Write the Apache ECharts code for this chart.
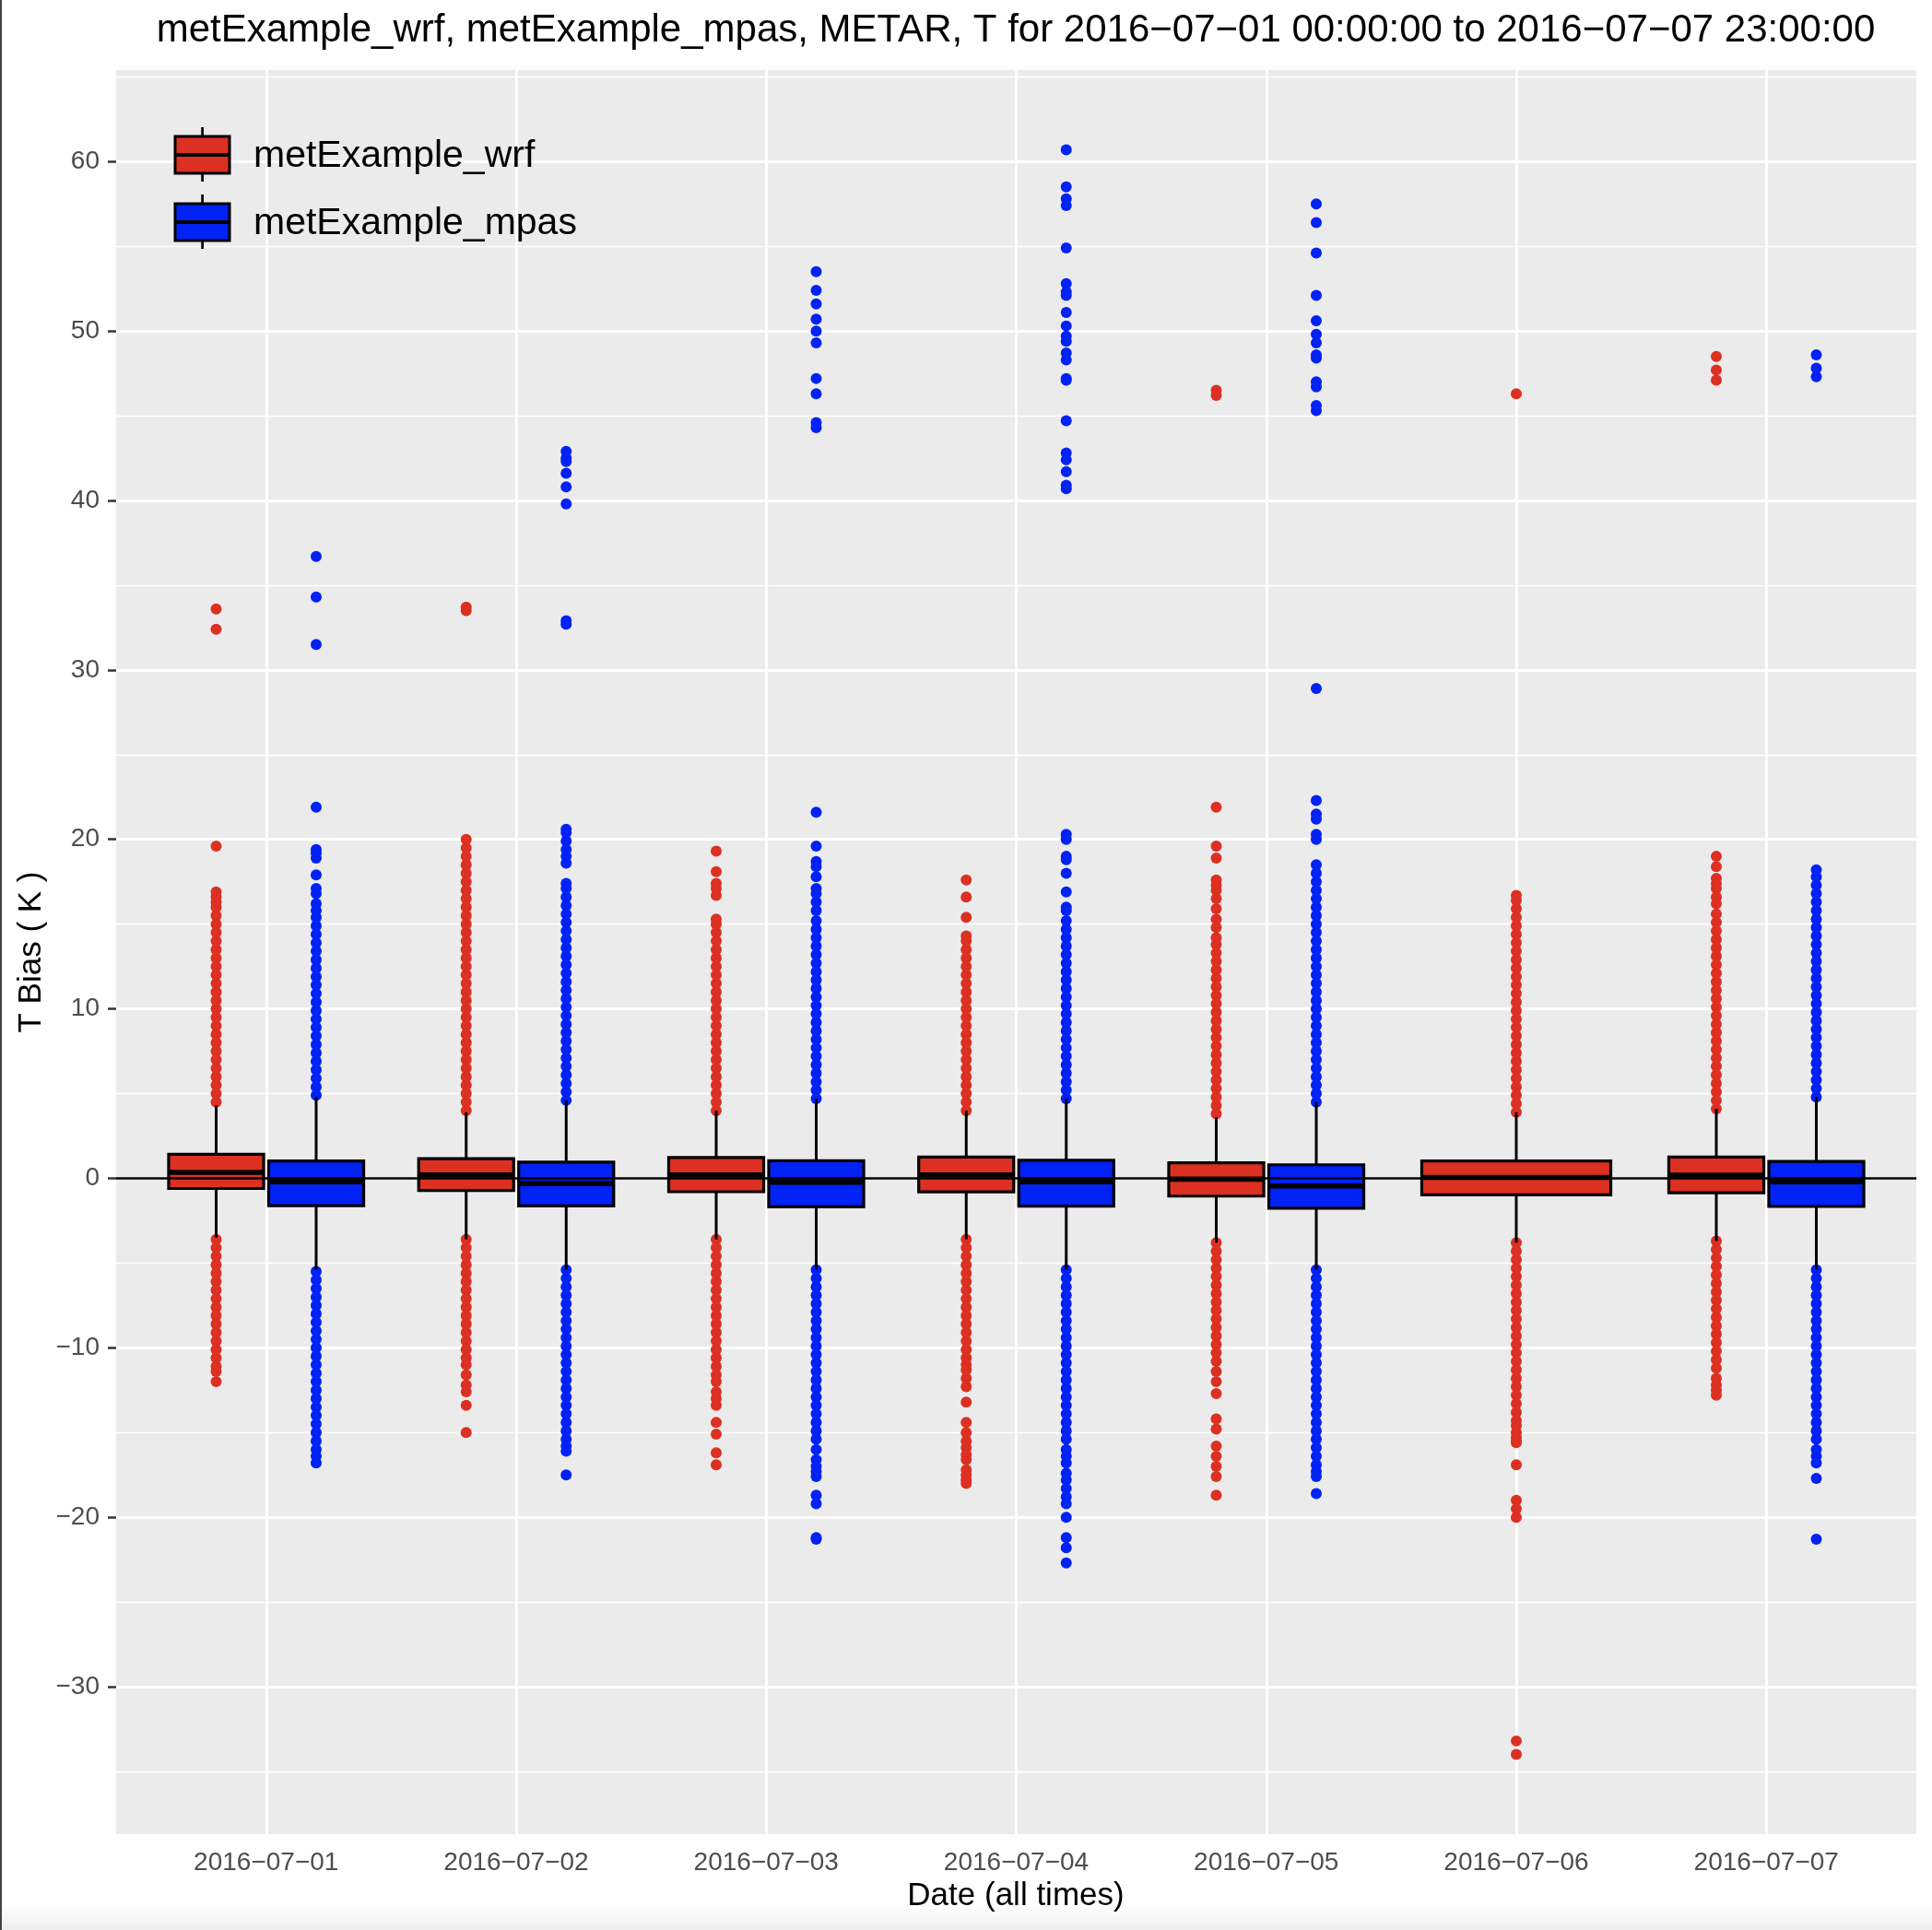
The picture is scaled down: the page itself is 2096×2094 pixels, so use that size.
<!DOCTYPE html>
<html><head><meta charset="utf-8">
<script src="https://cdn.jsdelivr.net/npm/echarts@6/dist/echarts.min.js"></script>
<style>html,body{margin:0;padding:0;background:#fff}#c{width:2096px;height:2094px}</style>
</head><body><div id="c"></div>
<script>
const dates = ['2016\u221207\u221201','2016\u221207\u221202','2016\u221207\u221203','2016\u221207\u221204','2016\u221207\u221205','2016\u221207\u221206','2016\u221207\u221207'];
const yTicks = [-30,-20,-10,0,10,20,30,40,50,60];
const yMinor = [-35,-25,-15,-5,5,15,25,35,45,55,65];

// [lower whisker, Q1, median, Q3, upper whisker]
const wrfBox = [
  [-3.5,-0.60,0.35,1.42,4.3],
  [-3.6,-0.72,0.20,1.16,3.9],
  [-3.6,-0.79,0.20,1.23,4.0],
  [-3.6,-0.80,0.20,1.25,4.0],
  [-3.8,-1.05,-0.05,0.91,3.6],
  [-3.8,-0.98,0.05,1.02,3.9],
  [-3.7,-0.85,0.18,1.25,4.1]
];
const mpasBox = [
  [-5.4,-1.61,-0.20,1.02,4.8],
  [-5.4,-1.63,-0.30,0.96,4.6],
  [-5.4,-1.68,-0.23,1.04,4.7],
  [-5.4,-1.64,-0.20,1.06,4.7],
  [-5.4,-1.76,-0.45,0.80,4.5],
  null,
  [-5.4,-1.66,-0.20,1.00,4.8]
];

const wrfOutliers = [
  [4.5,5.0,5.5,6.0,6.5,7.0,7.5,8.0,8.5,9.0,9.5,10.0,10.5,11.0,11.5,12.0,12.5,13.0,13.5,14.0,14.5,15.0,15.5,16.0,16.3,16.6,16.9,19.6,32.4,33.6,
   -3.6,-4.1,-4.6,-5.1,-5.6,-6.1,-6.6,-7.1,-7.6,-8.1,-8.6,-9.1,-9.6,-10.1,-10.6,-11.1,-11.4,-12.0],
  [4.0,4.5,5.0,5.5,6.0,6.5,7.0,7.5,8.0,8.5,9.0,9.5,10.0,10.5,11.0,11.5,12.0,12.5,13.0,13.5,14.0,14.5,15.0,15.5,16.0,16.5,17.0,17.5,18.0,18.5,19.0,19.5,20.0,33.5,33.7,
   -3.6,-4.1,-4.6,-5.1,-5.6,-6.1,-6.6,-7.1,-7.6,-8.1,-8.6,-9.1,-9.6,-10.1,-10.6,-11.0,-11.6,-12.2,-12.6,-13.4,-15.0],
  [4.0,4.5,5.0,5.5,6.0,6.5,7.0,7.5,8.0,8.5,9.0,9.5,10.0,10.5,11.0,11.5,12.0,12.5,13.0,13.5,14.0,14.5,15.0,15.3,16.7,17.1,17.4,18.1,19.3,
   -3.6,-4.1,-4.6,-5.1,-5.6,-6.1,-6.6,-7.1,-7.6,-8.1,-8.6,-9.1,-9.6,-10.1,-10.6,-11.1,-11.6,-12.0,-12.6,-13.0,-13.4,-14.4,-15.1,-16.2,-16.9],
  [4.0,4.5,5.0,5.5,6.0,6.5,7.0,7.5,8.0,8.5,9.0,9.5,10.0,10.5,11.0,11.5,12.0,12.5,13.0,13.5,14.0,14.3,15.4,16.6,17.6,
   -3.6,-4.1,-4.6,-5.1,-5.6,-6.1,-6.6,-7.1,-7.6,-8.1,-8.6,-9.1,-9.6,-10.1,-10.6,-11.0,-11.3,-11.8,-12.3,-13.2,-14.4,-15.0,-15.5,-15.9,-16.3,-16.6,-17.2,-17.5,-17.8,-18.0],
  [3.8,4.3,4.8,5.3,5.8,6.3,6.8,7.3,7.8,8.3,8.8,9.3,9.8,10.3,10.8,11.3,11.8,12.3,12.8,13.3,13.8,14.2,14.8,15.3,15.9,16.5,17.0,17.3,17.6,18.9,19.6,21.9,46.2,46.5,
   -3.8,-4.3,-4.8,-5.3,-5.8,-6.3,-6.8,-7.3,-7.8,-8.3,-8.8,-9.3,-9.8,-10.3,-10.8,-11.4,-12.0,-12.7,-14.2,-14.8,-15.8,-16.4,-17.0,-17.6,-18.7],
  [3.9,4.4,4.9,5.4,5.9,6.4,6.9,7.4,7.9,8.4,8.9,9.4,9.9,10.4,10.9,11.4,11.9,12.4,12.9,13.4,13.9,14.4,14.9,15.4,15.9,16.4,16.7,46.3,
   -3.8,-4.3,-4.8,-5.3,-5.8,-6.3,-6.8,-7.3,-7.8,-8.3,-8.8,-9.3,-9.8,-10.3,-10.8,-11.3,-11.8,-12.3,-12.8,-13.3,-13.8,-14.3,-14.6,-15.0,-15.3,-15.5,-15.6,-16.9,-19.0,-19.5,-20.0,-33.2,-34.0],
  [4.1,4.6,5.1,5.6,6.1,6.6,7.1,7.6,8.1,8.6,9.1,9.6,10.1,10.6,11.1,11.6,12.1,12.6,13.1,13.6,14.1,14.6,15.1,15.6,16.2,16.6,17.1,17.4,17.7,18.4,19.0,47.1,47.7,48.5,
   -3.7,-4.2,-4.7,-5.2,-5.7,-6.2,-6.7,-7.2,-7.7,-8.2,-8.7,-9.2,-9.7,-10.2,-10.7,-11.2,-11.8,-12.2,-12.5,-12.8]
];

const mpasOutliers = [
  [4.9,5.4,5.9,6.4,6.9,7.4,7.9,8.4,8.9,9.4,9.9,10.4,10.9,11.4,11.9,12.4,12.9,13.4,13.9,14.4,14.9,15.4,15.8,16.2,16.8,17.1,17.9,18.9,19.2,19.4,21.9,31.5,34.3,36.7,
   -5.5,-6.0,-6.5,-7.0,-7.5,-8.0,-8.5,-9.0,-9.5,-10.0,-10.5,-11.0,-11.5,-12.0,-12.5,-13.0,-13.5,-14.0,-14.5,-15.0,-15.5,-16.0,-16.4,-16.8],
  [4.6,5.1,5.6,6.1,6.6,7.1,7.6,8.1,8.6,9.1,9.6,10.1,10.6,11.1,11.6,12.1,12.6,13.1,13.6,14.1,14.6,15.1,15.6,16.1,16.6,17.1,17.4,18.6,19.0,19.4,19.9,20.4,20.6,32.7,32.9,39.8,40.8,41.6,42.3,42.5,42.9,
   -5.4,-5.9,-6.4,-6.9,-7.4,-7.9,-8.4,-8.9,-9.4,-9.9,-10.4,-10.9,-11.4,-11.9,-12.4,-12.9,-13.4,-13.9,-14.4,-14.9,-15.4,-15.8,-16.1,-17.5],
  [4.7,5.2,5.7,6.2,6.7,7.2,7.7,8.2,8.7,9.2,9.7,10.2,10.7,11.2,11.7,12.2,12.7,13.2,13.7,14.2,14.7,15.2,15.8,16.3,16.8,17.1,17.8,18.4,18.7,19.6,21.6,44.3,44.6,46.3,47.2,49.3,50.0,50.7,51.6,52.4,53.5,
   -5.4,-5.9,-6.4,-6.9,-7.4,-7.9,-8.4,-8.9,-9.4,-9.9,-10.4,-10.9,-11.4,-11.9,-12.4,-12.9,-13.4,-13.9,-14.4,-14.9,-15.4,-16.0,-16.6,-17.0,-17.3,-17.6,-18.7,-19.2,-21.2,-21.3],
  [4.7,5.2,5.7,6.2,6.7,7.2,7.7,8.2,8.7,9.2,9.7,10.2,10.7,11.2,11.7,12.2,12.7,13.2,13.7,14.2,14.7,15.2,15.8,16.0,16.9,18.0,18.8,19.0,20.0,20.3,40.7,40.9,41.7,42.4,42.8,44.7,47.1,47.2,48.3,48.7,49.4,49.7,50.3,51.1,52.1,52.3,52.8,54.9,57.4,57.8,58.5,60.7,
   -5.4,-5.9,-6.4,-6.9,-7.4,-7.9,-8.4,-8.9,-9.4,-9.9,-10.4,-10.9,-11.4,-11.9,-12.4,-12.9,-13.4,-13.9,-14.4,-14.9,-15.4,-16.0,-16.4,-16.8,-17.4,-17.8,-18.3,-18.8,-19.2,-20.0,-21.2,-21.8,-22.7],
  [4.5,5.0,5.5,6.0,6.5,7.0,7.5,8.0,8.5,9.0,9.5,10.0,10.5,11.0,11.5,12.0,12.5,13.0,13.5,14.0,14.5,15.0,15.5,16.0,16.5,17.0,17.5,18.0,18.5,20.0,20.3,21.2,21.5,22.3,28.9,45.3,45.6,46.7,47.0,48.4,48.6,49.3,49.8,50.6,52.1,54.6,56.4,57.5,
   -5.4,-5.9,-6.4,-6.9,-7.4,-7.9,-8.4,-8.9,-9.4,-9.9,-10.4,-10.9,-11.4,-11.9,-12.4,-12.9,-13.4,-13.9,-14.4,-14.9,-15.4,-15.9,-16.4,-16.9,-17.3,-17.6,-18.6],
  [],
  [4.8,5.3,5.8,6.3,6.8,7.3,7.8,8.3,8.8,9.3,9.8,10.3,10.8,11.3,11.8,12.3,12.8,13.3,13.8,14.3,14.8,15.3,15.8,16.3,16.8,17.3,17.8,18.2,47.3,47.8,48.6,
   -5.4,-5.9,-6.4,-6.9,-7.4,-7.9,-8.4,-8.9,-9.4,-9.9,-10.4,-10.9,-11.4,-11.9,-12.4,-12.9,-13.4,-13.9,-14.4,-14.9,-15.4,-16.0,-16.4,-16.8,-17.7,-21.3]
];

const seriesNames = ['metExample_wrf','metExample_mpas'];
const titleText = 'metExample_wrf, metExample_mpas, METAR, T for 2016\u221207\u221201 00:00:00 to 2016\u221207\u221207 23:00:00';

const RED = '#DC3022', BLUE = '#0022F5';
const FONT = 'Liberation Sans, Arial, Helvetica, sans-serif';

const both = d => !!(wrfBox[d-1] && mpasBox[d-1]);
const centerOf = (d, side) => both(d) ? d + side * 0.2 : d;
const halfOf = d => both(d) ? 0.19 : 0.378;

function boxSeries(name, boxes, color, side) {
  const data = [];
  boxes.forEach((b, i) => { if (b) data.push([i + 1].concat(b)); });
  return {
    type: 'custom', name, z: 3, data,
    encode: { x: 0, y: [1, 2, 3, 4, 5] },
    renderItem(params, api) {
      const d = api.value(0);
      const cx = centerOf(d, side), h = halfOf(d);
      const lo = api.value(1), q1 = api.value(2), md = api.value(3), q3 = api.value(4), hi = api.value(5);
      const pHi = api.coord([cx, hi]), pQ3 = api.coord([cx, q3]), pQ1 = api.coord([cx, q1]), pLo = api.coord([cx, lo]);
      const pL = api.coord([cx - h, q3]), pR = api.coord([cx + h, q1]);
      const mL = api.coord([cx - h, md]), mR = api.coord([cx + h, md]);
      const ws = { stroke: '#000', lineWidth: 3 };
      return { type: 'group', children: [
        { type: 'line', shape: { x1: pHi[0], y1: pHi[1], x2: pQ3[0], y2: pQ3[1] }, style: ws },
        { type: 'line', shape: { x1: pLo[0], y1: pLo[1], x2: pQ1[0], y2: pQ1[1] }, style: ws },
        { type: 'rect', shape: { x: pL[0], y: pL[1], width: pR[0] - pL[0], height: pR[1] - pL[1] }, style: { fill: color, stroke: '#000', lineWidth: 3.2 } },
        { type: 'line', shape: { x1: mL[0], y1: mL[1], x2: mR[0], y2: mR[1] }, style: { stroke: '#000', lineWidth: 5.6 } }
      ]};
    }
  };
}

function outlierSeries(name, outs, color, side) {
  const data = [];
  outs.forEach((arr, i) => arr.forEach(v => data.push([centerOf(i + 1, side), v])));
  return { type: 'scatter', name, z: 2, data, symbol: 'circle', symbolSize: 12,
    itemStyle: { color, opacity: 1 }, silent: true };
}

const gridLines = [];
yMinor.forEach(v => gridLines.push({ yAxis: v, lineStyle: { width: 1.4 } }));
yTicks.forEach(v => gridLines.push({ yAxis: v, lineStyle: { width: 2.8 } }));
dates.forEach((_, i) => gridLines.push({ xAxis: i + 1, lineStyle: { width: 2.8 } }));

const LZ = 100;
const option = {
  animation: false,
  backgroundColor: '#ffffff',
  grid: { left: 126, top: 76, width: 1953, height: 1914, show: true, backgroundColor: '#EBEBEB', borderWidth: 0 },
  xAxis: {
    type: 'value', min: 0.4, max: 7.6,
    axisLine: { show: false },
    axisTick: { show: true, length: 9, customValues: [1,2,3,4,5,6,7], lineStyle: { color: '#333333', width: 2.5 } },
    axisLabel: { customValues: [1,2,3,4,5,6,7], formatter: v => dates[Math.round(v) - 1], color: '#4D4D4D', fontSize: 28, fontFamily: FONT, margin: 17 },
    splitLine: { show: false }
  },
  yAxis: {
    type: 'value', min: -38.7, max: 65.4,
    axisLine: { show: false },
    axisTick: { show: true, length: 9, customValues: yTicks, lineStyle: { color: '#333333', width: 2.5 } },
    axisLabel: { customValues: yTicks, formatter: v => String(v).replace('-', '\u2212'), color: '#4D4D4D', fontSize: 28, fontFamily: FONT, margin: 18 },
    splitLine: { show: false }
  },
  graphic: [
    { type: 'rect', shape: { x: 0, y: 0, width: 2, height: 2094 }, style: { fill: '#444' }, silent: true },
    { type: 'rect', shape: { x: 2, y: 2066, width: 2094, height: 28 }, silent: true,
      style: { fill: new echarts.graphic.LinearGradient(0, 0, 0, 1, [{ offset: 0, color: 'rgba(240,240,240,0)' }, { offset: 1, color: '#EDEDED' }]) } },
    { type: 'text', x: 1102, y: 33, style: { text: titleText, font: '42px ' + FONT, fill: '#000', align: 'center', verticalAlign: 'middle' } },
    { type: 'text', x: 1102, y: 2057, style: { text: 'Date (all times)', font: '35px ' + FONT, fill: '#000', align: 'center', verticalAlign: 'middle' } },
    { type: 'text', x: 34, y: 1033, rotation: Math.PI / 2, style: { text: 'T Bias ( K )', font: '35px ' + FONT, fill: '#000', align: 'center', verticalAlign: 'middle' } },
    // legend
    { type: 'line', z: LZ, shape: { x1: 219.6, y1: 138, x2: 219.6, y2: 197 }, style: { stroke: '#000', lineWidth: 2.7 } },
    { type: 'rect', z: LZ, shape: { x: 190, y: 148, width: 59, height: 40 }, style: { fill: RED, stroke: '#000', lineWidth: 3 } },
    { type: 'line', z: LZ, shape: { x1: 190, y1: 168, x2: 249, y2: 168 }, style: { stroke: '#000', lineWidth: 4 } },
    { type: 'text', z: LZ, x: 275, y: 170, style: { text: seriesNames[0], font: '41px ' + FONT, fill: '#000', verticalAlign: 'middle' } },
    { type: 'line', z: LZ, shape: { x1: 219.6, y1: 211, x2: 219.6, y2: 270 }, style: { stroke: '#000', lineWidth: 2.7 } },
    { type: 'rect', z: LZ, shape: { x: 190, y: 221, width: 59, height: 40 }, style: { fill: BLUE, stroke: '#000', lineWidth: 3 } },
    { type: 'line', z: LZ, shape: { x1: 190, y1: 241, x2: 249, y2: 241 }, style: { stroke: '#000', lineWidth: 4 } },
    { type: 'text', z: LZ, x: 275, y: 243, style: { text: seriesNames[1], font: '41px ' + FONT, fill: '#000', verticalAlign: 'middle' } }
  ],
  series: [
    { type: 'line', data: [], silent: true, z: 1,
      markLine: { silent: true, z: 1, symbol: ['none', 'none'], label: { show: false }, animation: false,
        lineStyle: { color: '#FFFFFF', type: 'solid' }, data: gridLines } },
    outlierSeries(seriesNames[0], wrfOutliers, RED, -1),
    outlierSeries(seriesNames[1], mpasOutliers, BLUE, 1),
    boxSeries(seriesNames[0], wrfBox, RED, -1),
    boxSeries(seriesNames[1], mpasBox, BLUE, 1),
    { type: 'line', data: [], silent: true, z: 10,
      markLine: { silent: true, z: 10, symbol: ['none', 'none'], label: { show: false }, animation: false,
        lineStyle: { color: '#000000', type: 'solid', width: 2.7 }, data: [{ yAxis: 0 }] } }
  ]
};

const chart = echarts.init(document.getElementById('c'), null, { renderer: 'canvas', width: 2096, height: 2094 });
chart.setOption(option);
</script>
</body></html>
